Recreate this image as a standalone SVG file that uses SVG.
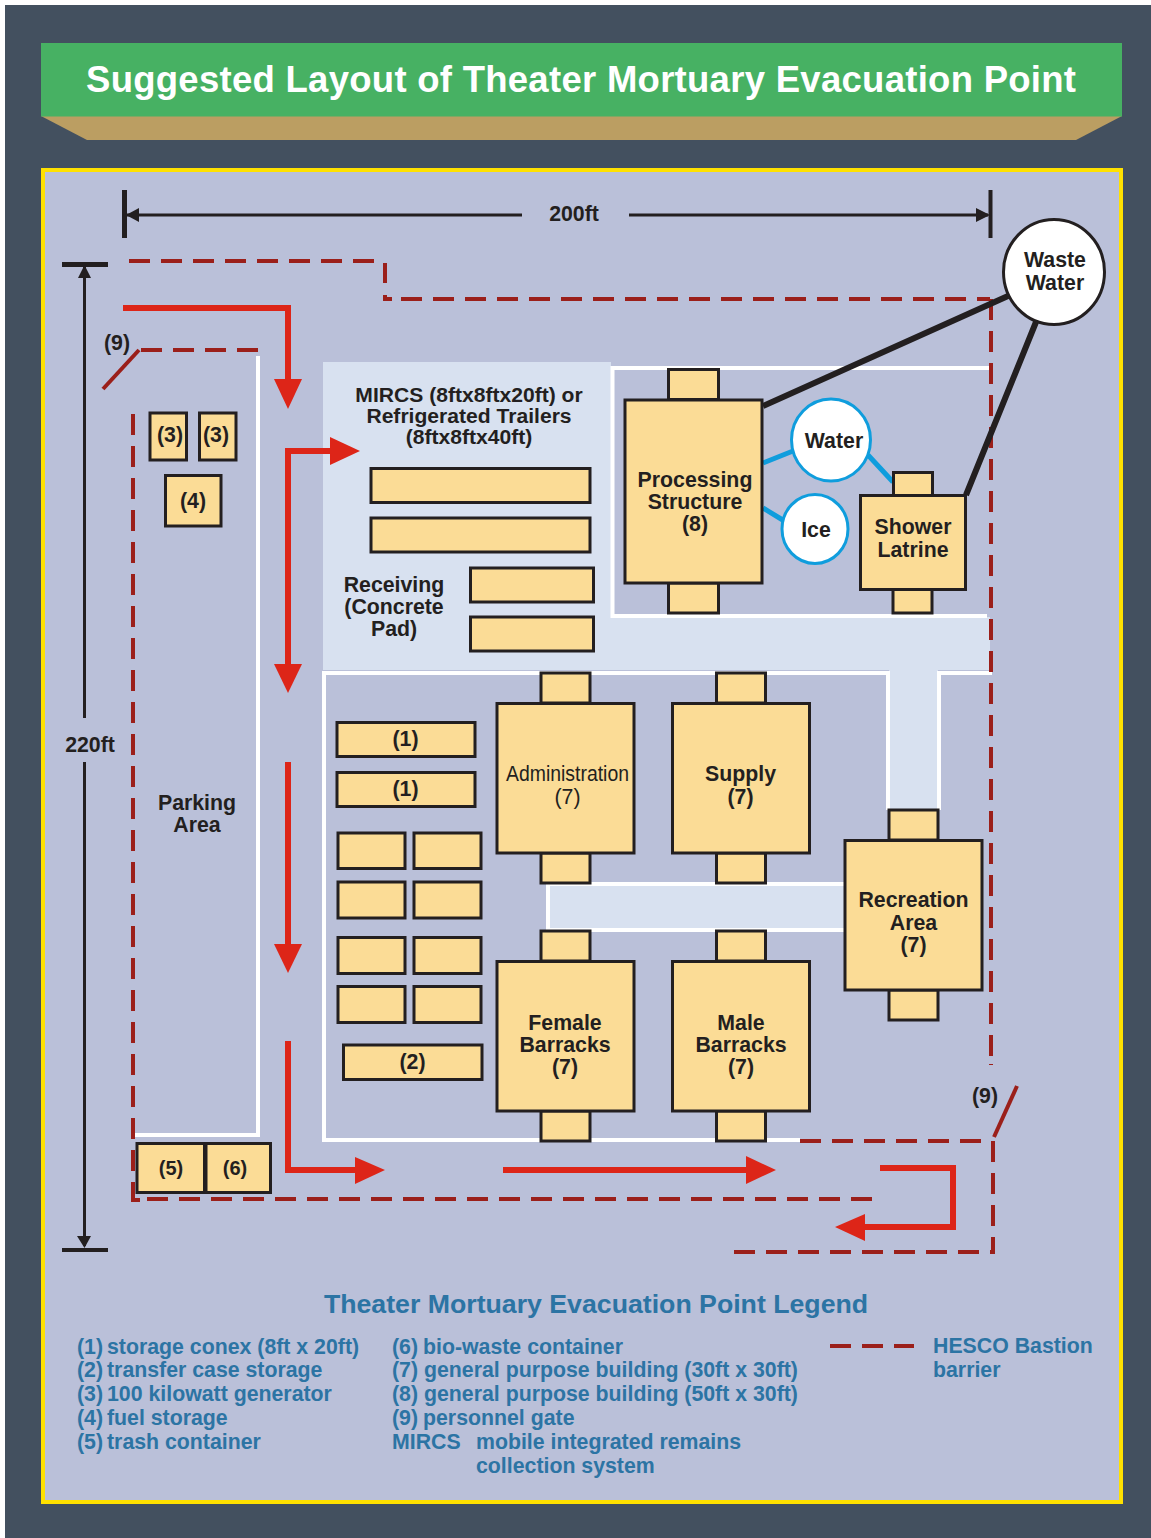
<svg xmlns="http://www.w3.org/2000/svg" width="1151" height="1538" viewBox="0 0 1151 1538">
<style>
text{font-family:"Liberation Sans",Arial,sans-serif;font-weight:700;fill:#231f20;font-size:21.3px;text-anchor:middle}
.b{fill:#fbdc96;stroke:#231f20;stroke-width:3}
.w{fill:none;stroke:#fff;stroke-width:4}
.d{fill:none;stroke:#9b1f1a;stroke-width:4;stroke-dasharray:21 11}
.g{fill:none;stroke:#9b1f1a;stroke-width:4}
.r{fill:none;stroke:#dd2518;stroke-width:6}
.rh{fill:#dd2518}
.k{fill:none;stroke:#231f20;stroke-width:3}
.kh{fill:#231f20}
.pipe{fill:none;stroke:#231f20;stroke-width:6}
.blue{fill:none;stroke:#0f9ddd;stroke-width:5}
.c{fill:#fff;stroke:#0f9ddd;stroke-width:3}
.l{fill:#2c74a4;text-anchor:start}
.m{font-size:21.1px}
</style>
<rect x="5" y="5" width="1146" height="1533" fill="#43505f"/>
<g id="banner">
<polygon points="41,116 1122,116 1076,140 87,140" fill="#bb9e62"/>
<rect x="41" y="43" width="1081" height="73.500" fill="#47b163"/>
<text x="581" y="92" style="font-size:36.5px;fill:#fff" textLength="990" lengthAdjust="spacing">Suggested Layout of Theater Mortuary Evacuation Point</text>
</g>
<rect x="43" y="170" width="1078" height="1332" fill="#bac0d9" stroke="#ffe100" stroke-width="4"/>
<g id="grounds">
<path d="M323,362H611V617H990V670H938V810H889V670H323Z" fill="#d8e1f0"/>
<rect x="548" y="885" width="297" height="45" fill="#d8e1f0"/>
<path class="w" d="M990,368H612.500V616H987"/>
<path class="w" d="M888,810V673H324V1140H800"/>
<path class="w" d="M939,810V673H992"/>
<path class="w" d="M845,884H548V930H845"/>
<path class="w" d="M258,356V1135H132"/>
</g>
<g id="connectors">
<g id="barrier">
<path class="d" d="M129,261H374"/>
<path class="g" d="M385,263V283M385,295V299H392"/>
<path class="d" d="M401,299H990"/>
<path class="d" d="M991,299V1056"/>
<path class="g" d="M991,1064V1065"/>
<path class="d" d="M133,414V1198"/>
<path class="d" d="M147,1199H872"/>
<path class="g" d="M133,1190V1200H140"/>
<path class="d" d="M141,350H258"/>
<path class="g" d="M139,350L103,389"/>
<path class="g" d="M1017,1086L994,1137"/>
<path class="d" d="M800,1141H990"/>
<path class="d" d="M993,1141V1253"/>
<path class="d" d="M734,1252H990"/>
<path class="g" d="M990,1252H995"/>
</g>
<g id="flow">
<path class="r" d="M123,308H288V385"/>
<polygon class="rh" points="274,379 302,379 288,409"/>
<path class="r" d="M288,666V451H335"/>
<polygon class="rh" points="330,437 330,465 360,451"/>
<polygon class="rh" points="274,664 302,664 288,693"/>
<path class="r" d="M288,762V948"/>
<polygon class="rh" points="274,944 302,944 288,973"/>
<path class="r" d="M288,1041V1170H360"/>
<polygon class="rh" points="355,1157 355,1184 385,1170"/>
<path class="r" d="M503,1170H750"/>
<polygon class="rh" points="746,1156 746,1184 776,1170"/>
<path class="r" d="M880,1168H953V1227H860"/>
<polygon class="rh" points="865,1214 865,1241 835,1227"/>
</g>
<g id="dimensions">
<path class="kh" d="M122,190h5v48h-5zM988.500,190h4v48h-4zM62,262h46v5H62zM62,1248h46v4H62z"/>
<path class="k" d="M126,215H522M629,215H988M84.500,265V718M84.500,762V1246"/>
<polygon class="kh" points="126,215 139,208 139,222"/>
<polygon class="kh" points="990,215 976,208 976,222"/>
<polygon class="kh" points="84.500,265 78,278 91,278"/>
<polygon class="kh" points="84.500,1248 77,1236 91,1236"/>
<text x="574" y="221">200ft</text>
<text x="90" y="752">220ft</text>
</g>
<g id="pipes">
<path class="blue" d="M763,463L793,451M868,455L893,482M763,508L786,522"/>
<path class="pipe" d="M763,406L1008,296M966,495L1036,322"/>
</g>
</g>
<g id="parking"><text x="197" y="810">Parking</text><text x="197" y="832">Area</text></g>
<g id="gate-label-1"><text x="117" y="350">(9)</text></g>
<g id="gate-label-2"><text x="985" y="1103">(9)</text></g>
<g id="mircs-label"><text class="m" x="469" y="402">MIRCS (8ftx8ftx20ft) or</text><text class="m" x="469" y="423">Refrigerated Trailers</text><text class="m" x="469" y="444">(8ftx8ftx40ft)</text></g>
<g id="receiving-label"><text x="394" y="592">Receiving</text><text x="394" y="614">(Concrete</text><text x="394" y="636">Pad)</text></g>
<g id="mircs-1"><rect class="b" x="371" y="468.500" width="219" height="34"/></g>
<g id="mircs-2"><rect class="b" x="371" y="518" width="219" height="34"/></g>
<g id="receiving-1"><rect class="b" x="470.500" y="568" width="123" height="34"/></g>
<g id="receiving-2"><rect class="b" x="470.500" y="617" width="123" height="34"/></g>
<g id="processing">
<rect class="b" x="668.500" y="369.500" width="50" height="30"/><rect class="b" x="668.500" y="583" width="50" height="30"/>
<rect class="b" x="625" y="400" width="137" height="183"/>
<text x="695" y="487">Processing</text><text x="695" y="509">Structure</text><text x="695" y="531">(8)</text>
</g>
<g id="shower">
<rect class="b" x="893.500" y="472.500" width="39" height="23"/><rect class="b" x="893" y="589" width="39" height="24"/>
<rect class="b" x="860.500" y="495.500" width="105" height="94"/>
<text x="913" y="534">Shower</text><text x="913" y="557">Latrine</text>
</g>
<g id="administration">
<rect class="b" x="541" y="673" width="49" height="30"/><rect class="b" x="541" y="853" width="49" height="30"/>
<rect class="b" x="497" y="703.500" width="137" height="149.500"/>
<text x="567.500" y="781" style="font-weight:400" textLength="123" lengthAdjust="spacingAndGlyphs">Administration</text><text x="567.500" y="804" style="font-weight:400">(7)</text>
</g>
<g id="supply">
<rect class="b" x="716.500" y="673" width="49" height="30"/><rect class="b" x="716.500" y="853" width="49" height="30"/>
<rect class="b" x="672.500" y="703.500" width="137" height="149.500"/>
<text x="740.500" y="781">Supply</text><text x="740.500" y="804">(7)</text>
</g>
<g id="recreation">
<rect class="b" x="889" y="810" width="49" height="30"/><rect class="b" x="889" y="990" width="49" height="30"/>
<rect class="b" x="845" y="840.500" width="137" height="149.500"/>
<text x="913.500" y="907">Recreation</text><text x="913.500" y="930">Area</text><text x="913.500" y="952">(7)</text>
</g>
<g id="female">
<rect class="b" x="541" y="931" width="49" height="30"/><rect class="b" x="541" y="1111" width="49" height="30"/>
<rect class="b" x="497" y="961.500" width="137" height="149.500"/>
<text x="565" y="1030">Female</text><text x="565" y="1052">Barracks</text><text x="565" y="1074">(7)</text>
</g>
<g id="male">
<rect class="b" x="716.500" y="931" width="49" height="30"/><rect class="b" x="716.500" y="1111" width="49" height="30"/>
<rect class="b" x="672.500" y="961.500" width="137" height="149.500"/>
<text x="741" y="1030">Male</text><text x="741" y="1052">Barracks</text><text x="741" y="1074">(7)</text>
</g>
<g id="conex-1"><rect class="b" x="337" y="722.500" width="138" height="34"/><text x="405.500" y="746">(1)</text></g>
<g id="conex-2"><rect class="b" x="337" y="772.500" width="138" height="34"/><text x="405.500" y="796">(1)</text></g>
<g id="case-1"><rect class="b" x="338" y="833" width="67" height="35.500"/></g>
<g id="case-2"><rect class="b" x="414" y="833" width="67" height="35.500"/></g>
<g id="case-3"><rect class="b" x="338" y="882" width="67" height="36"/></g>
<g id="case-4"><rect class="b" x="414" y="882" width="67" height="36"/></g>
<g id="case-5"><rect class="b" x="338" y="937.500" width="67" height="36"/></g>
<g id="case-6"><rect class="b" x="414" y="937.500" width="67" height="36"/></g>
<g id="case-7"><rect class="b" x="338" y="986.500" width="67" height="36"/></g>
<g id="case-8"><rect class="b" x="414" y="986.500" width="67" height="36"/></g>
<g id="transfer"><rect class="b" x="343.500" y="1045" width="138.500" height="34.500"/><text x="412.500" y="1069">(2)</text></g>
<g id="gen-1"><rect class="b" x="150" y="413" width="36.500" height="47"/><text x="170" y="442">(3)</text></g>
<g id="gen-2"><rect class="b" x="199.500" y="413" width="36.500" height="47"/><text x="216" y="442">(3)</text></g>
<g id="fuel"><rect class="b" x="165.500" y="475.500" width="55.500" height="50.500"/><text x="193" y="508">(4)</text></g>
<g id="trash"><rect class="b" x="137" y="1143.500" width="67.500" height="49"/><text x="171" y="1175" style="font-size:20px">(5)</text></g>
<g id="biowaste"><rect class="b" x="206" y="1143.500" width="64.500" height="49"/><text x="235" y="1175" style="font-size:20px">(6)</text></g>
<g id="waste-water"><ellipse cx="1054" cy="272" rx="50.500" ry="52.500" fill="#fff" stroke="#231f20" stroke-width="3"/><text x="1055" y="267">Waste</text><text x="1055" y="290">Water</text></g>
<g id="water"><ellipse class="c" cx="831" cy="440" rx="39.500" ry="41"/><text x="834" y="448">Water</text></g>
<g id="ice"><ellipse class="c" cx="815" cy="529" rx="33" ry="34.500"/><text x="816" y="537">Ice</text></g>
<g id="legend">
<text x="596" y="1313" style="font-size:26.7px;fill:#2c74a4">Theater Mortuary Evacuation Point Legend</text>
<g class="lg">
<text class="l" x="77" y="1354">(1)</text><text class="l" x="107" y="1354">storage conex (8ft x 20ft)</text>
<text class="l" x="77" y="1377">(2)</text><text class="l" x="107" y="1377">transfer case storage</text>
<text class="l" x="77" y="1401">(3)</text><text class="l" x="107" y="1401">100 kilowatt generator</text>
<text class="l" x="77" y="1425">(4)</text><text class="l" x="107" y="1425">fuel storage</text>
<text class="l" x="77" y="1449">(5)</text><text class="l" x="107" y="1449">trash container</text>
<text class="l" x="392" y="1354">(6)</text><text class="l" x="423" y="1354">bio-waste container</text>
<text class="l" x="392" y="1377">(7)</text><text class="l" x="424" y="1377">general purpose building (30ft x 30ft)</text>
<text class="l" x="392" y="1401">(8)</text><text class="l" x="424" y="1401">general purpose building (50ft x 30ft)</text>
<text class="l" x="392" y="1425">(9)</text><text class="l" x="423" y="1425">personnel gate</text>
<text class="l" x="392" y="1449">MIRCS</text><text class="l" x="476" y="1449">mobile integrated remains</text>
<text class="l" x="476" y="1473">collection system</text>
<text class="l" x="933" y="1353">HESCO Bastion</text>
<text class="l" x="933" y="1377">barrier</text>
</g>
<path class="d" d="M830,1346H914"/>
</g>
</svg>
